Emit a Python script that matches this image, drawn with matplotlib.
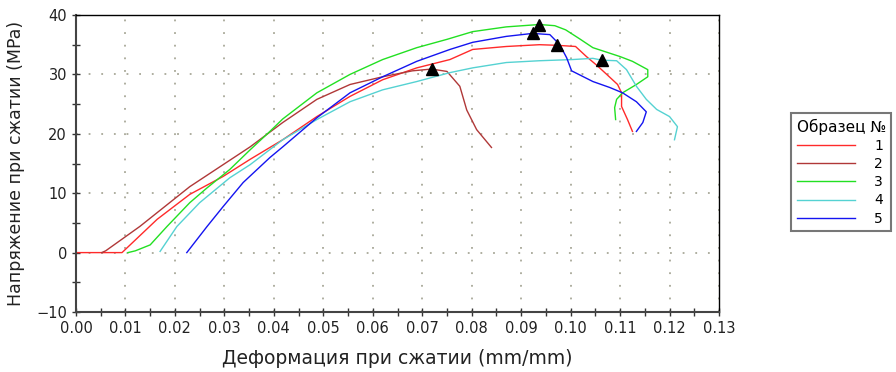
import numpy as np
import matplotlib
matplotlib.use("Agg")
import matplotlib.pyplot as plt
from matplotlib.ticker import MultipleLocator, FormatStrFormatter

# деформация / напряжение, образцы 1..5
x1 = [0, 0.0093, 0.0164, 0.023, 0.0297, 0.0352, 0.0418, 0.0487, 0.0554, 0.062, 0.0689, 0.0756,
      0.0802, 0.087, 0.0937, 0.0972, 0.1010, 0.1032, 0.1052, 0.1073, 0.1095, 0.1103, 0.1103, 0.1115, 0.1125]
y1 = [0, 0, 5.6, 9.8, 12.8, 15.7, 19.0, 22.9, 26.3, 29.1, 31.1, 32.5,
      34.2, 34.7, 35.0, 34.9, 34.7, 33.0, 31.6, 30.0, 28.3, 26.9, 24.6, 22.4, 20.4]

x2 = [0.0052, 0.0060, 0.0129, 0.023, 0.0352, 0.0418, 0.0487, 0.0554, 0.062, 0.068, 0.0719,
      0.075, 0.0776, 0.079, 0.081, 0.084]
y2 = [0, 0.3, 4.4, 11.1, 17.8, 21.9, 25.8, 28.3, 29.6, 30.6, 30.9,
      30.5, 28.0, 24.0, 20.7, 17.7]

x3 = [0.0105, 0.012, 0.015, 0.0184, 0.023, 0.0265, 0.0311, 0.0352, 0.0392, 0.0418, 0.0487, 0.0554,
      0.062, 0.0689, 0.075, 0.0802, 0.087, 0.0937, 0.0968, 0.099, 0.1018, 0.1045, 0.110, 0.1125,
      0.1156, 0.1156, 0.1133, 0.1105, 0.1093, 0.1089, 0.1091]
y3 = [0, 0.3, 1.3, 4.4, 8.4, 10.9, 14.0, 17.3, 20.4, 22.5, 26.9, 30.0,
      32.5, 34.5, 35.9, 37.2, 38.0, 38.4, 38.2, 37.5, 36.0, 34.5, 33.0, 32.2,
      30.8, 29.6, 28.3, 26.9, 25.8, 24.4, 22.4]

x4 = [0.0170, 0.0204, 0.025, 0.0311, 0.0352, 0.0418, 0.0487, 0.0554, 0.062, 0.0689, 0.0756, 0.0802,
      0.087, 0.0937, 0.1004, 0.1045, 0.1063, 0.1093, 0.1113, 0.1133, 0.1153, 0.1174, 0.120, 0.1216, 0.121]
y4 = [0.2, 4.4, 8.4, 12.6, 14.8, 19.0, 22.4, 25.4, 27.4, 28.8, 30.3, 31.1,
      32.0, 32.3, 32.5, 32.7, 32.4, 32.3, 30.8, 28.0, 25.8, 24.1, 22.9, 21.2, 19.0]

x5 = [0.0224, 0.0265, 0.0297, 0.0338, 0.0392, 0.0418, 0.0487, 0.0554, 0.062, 0.0689, 0.0756, 0.0802,
      0.087, 0.0923, 0.0958, 0.0978, 0.0992, 0.1002, 0.1045, 0.1079, 0.1105, 0.1133, 0.1153, 0.1146, 0.1133]
y5 = [0, 4.4, 7.7, 11.8, 16.0, 17.8, 22.7, 26.9, 29.6, 32.2, 34.2, 35.4,
      36.4, 36.9, 36.7, 35.0, 32.8, 30.6, 28.8, 27.8, 26.9, 25.4, 23.7, 21.9, 20.4]

# пики (треугольники)
peak_x = [0.0972, 0.0719, 0.0937, 0.1063, 0.0923]
peak_y = [34.9, 30.9, 38.4, 32.4, 36.9]

labels = ["1", "2", "3", "4", "5"]
colors = ["#ff2a2a", "#b03838", "#22e022", "#55d2d2", "#1414f0"]

fig = plt.figure(figsize=(8.96, 3.72), dpi=100)
ax = fig.add_axes([76 / 896, 1 - 312 / 372, (719 - 76) / 896, (312 - 15) / 372])

series = [(x1, y1), (x2, y2), (x3, y3), (x4, y4), (x5, y5)]
for (xs, ys), c, lab in zip(series, colors, labels):
    ax.plot(xs, ys, color=c, lw=1.0, label=lab)
ax.plot(peak_x, peak_y, ls="none", marker="^", color="black", ms=8)

ax.set_xlim(0, 0.13)
ax.set_ylim(-10, 40)
ax.xaxis.set_major_locator(MultipleLocator(0.01))
ax.xaxis.set_minor_locator(MultipleLocator(0.005))
ax.yaxis.set_major_locator(MultipleLocator(10))
ax.yaxis.set_minor_locator(MultipleLocator(5))
ax.xaxis.set_major_formatter(FormatStrFormatter("%.2f"))
ax.tick_params(which="both", direction="inout", length=6, width=1, color="#333333",
               labelsize=10.5, labelcolor="#222222")
ax.grid(True, which="major", color="#a8a898", ls=(0, (1, 6)), lw=1.3)

for s in ["left", "bottom"]:
    ax.spines[s].set_color("#444444")
    ax.spines[s].set_linewidth(1.5)
for s in ["top", "right"]:
    ax.spines[s].set_color("black")
    ax.spines[s].set_linewidth(1.0)

ax.set_xlabel("Деформация при сжатии (mm/mm)", fontsize=13.5, color="#222222", labelpad=9)
ax.set_ylabel("Напряжение при сжатии (MPa)", fontsize=12.5, color="#222222", labelpad=8)

leg = fig.legend(loc="upper left", bbox_to_anchor=(791 / 896, 1 - 113 / 372),
                 title="Образец №", fontsize=10, title_fontsize=11, frameon=True,
                 fancybox=False, handlelength=4.2, handletextpad=1.4,
                 labelspacing=0.3, borderaxespad=0, borderpad=0.4)
leg.get_frame().set_edgecolor("#555555")
leg.get_frame().set_linewidth(1.5)
leg._legend_box.align = "left"

fig.savefig("out.png", dpi=100)
